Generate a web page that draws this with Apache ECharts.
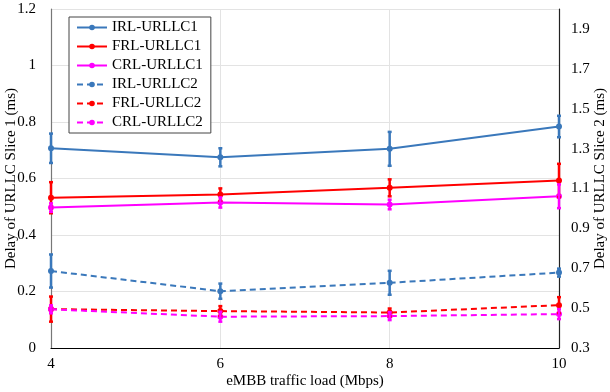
<!DOCTYPE html>
<html>
<head>
<meta charset="utf-8">
<script src="https://cdn.jsdelivr.net/npm/echarts@6/dist/echarts.min.js"></script>
<style>html,body{margin:0;padding:0;background:#fff;}#c{width:610px;height:392px;}</style>
</head>
<body>
<div id="c"></div>
<script>
var loads = [4, 6, 8, 10];
var xTicks = [4, 6, 8, 10];
var irl1 = [0.707, 0.675, 0.705, 0.784];
var frl1 = [0.532, 0.543, 0.567, 0.593];
var crl1 = [0.497, 0.515, 0.508, 0.537];
var irl2 = [0.686, 0.585, 0.627, 0.678];
var frl2 = [0.495, 0.485, 0.478, 0.515];
var crl2 = [0.494, 0.457, 0.460, 0.470];
var irl1Err = [0.052, 0.032, 0.060, 0.038];
var frl1Err = [0.055, 0.022, 0.030, 0.059];
var crl1Err = [0.015, 0.018, 0.017, 0.042];
var irl2Err = [0.083, 0.038, 0.060, 0.020];
var frl2Err = [0.063, 0.025, 0.020, 0.040];
var crl2Err = [0.020, 0.025, 0.020, 0.025];
var names = ['IRL-URLLC1','FRL-URLLC1','CRL-URLLC1','IRL-URLLC2','FRL-URLLC2','CRL-URLLC2'];

var BLUE = '#3a78bb', RED = '#ff0000', MAG = '#ff00ff';
var FONT = 'Liberation Serif';

function pairs(vals){ return loads.map(function(x,i){ return [x, vals[i]]; }); }
function errData(vals, err){ return loads.map(function(x,i){ return [x, vals[i]-err[i], vals[i]+err[i]]; }); }

function lineSeries(name, vals, color, dashed, axis){
  return {
    name: name, type: 'line', yAxisIndex: axis, data: pairs(vals),
    symbol: 'circle', symbolSize: 6, z: 2,
    itemStyle: {color: color},
    lineStyle: {color: color, width: 2, type: dashed ? [6,4] : 'solid'}
  };
}
function errSeries(vals, err, color, axis){
  return {
    type: 'custom', yAxisIndex: axis, data: errData(vals, err), z: 3, silent: true,
    renderItem: function(params, api){
      var x = api.value(0);
      var lo = api.coord([x, api.value(1)]);
      var hi = api.coord([x, api.value(2)]);
      var w = 2;
      var st = {stroke: color, lineWidth: 2.5};
      return {type: 'group', children: [
        {type:'line', shape:{x1:lo[0],y1:lo[1],x2:hi[0],y2:hi[1]}, style: st},
        {type:'line', shape:{x1:lo[0]-w,y1:lo[1],x2:lo[0]+w,y2:lo[1]}, style: st},
        {type:'line', shape:{x1:hi[0]-w,y1:hi[1],x2:hi[0]+w,y2:hi[1]}, style: st}
      ]};
    }
  };
}

var chart = echarts.init(document.getElementById('c'), null, {renderer: 'canvas'});
chart.setOption({
  animation: false,
  backgroundColor: '#fff',
  textStyle: {fontFamily: FONT},
  grid: {left: 51, right: 51, top: 9, bottom: 44, containLabel: false, outerBoundsMode: 'none'},
  legend: {
    data: names, orient: 'vertical', left: 69, top: 17,
    padding: [3, 8, 3, 7], itemGap: 4, itemWidth: 30, itemHeight: 7,
    backgroundColor: '#fff', borderColor: '#444', borderWidth: 1,
    textStyle: {fontFamily: FONT, fontSize: 15, color: '#000', lineHeight: 15}
  },
  xAxis: {
    type: 'value', min: 4, max: 10, interval: 2,
    name: 'eMBB traffic load (Mbps)', nameLocation: 'middle', nameGap: 26, nameMoveOverlap: false,
    nameTextStyle: {fontFamily: FONT, fontSize: 15, color: '#000'},
    axisLine: {lineStyle: {color: '#000', width: 1.2}},
    axisTick: {show: false},
    axisLabel: {fontFamily: FONT, fontSize: 15, color: '#000', margin: 9,
      formatter: function(v){ return xTicks.indexOf(v) >= 0 ? String(v) : ''; }},
    splitLine: {show: true, lineStyle: {color: '#e3e3e3', width: 1}}
  },
  yAxis: [{
    type: 'value', min: 0, max: 1.2, interval: 0.2, position: 'left',
    name: 'Delay of URLLC Slice 1 (ms)', nameLocation: 'middle', nameGap: 32, nameMoveOverlap: false,
    nameTextStyle: {fontFamily: FONT, fontSize: 15, color: '#000'},
    axisLine: {show: true, lineStyle: {color: '#777', width: 1.2}},
    axisTick: {show: false},
    axisLabel: {fontFamily: FONT, fontSize: 15, color: '#000', margin: 15},
    splitLine: {show: true, lineStyle: {color: '#e3e3e3', width: 1}}
  }, {
    type: 'value', min: 0.3, max: 2.0, interval: 0.1, position: 'right',
    name: 'Delay of URLLC Slice 2 (ms)', nameLocation: 'middle', nameGap: 34, nameMoveOverlap: false,
    nameTextStyle: {fontFamily: FONT, fontSize: 15, color: '#000'},
    axisLine: {show: true, lineStyle: {color: '#222', width: 1.2}},
    axisTick: {show: false},
    axisLabel: {fontFamily: FONT, fontSize: 15, color: '#000', margin: 12,
      formatter: function(v){ var k = Math.round(v*10); return (k % 2 === 1 && k < 20) ? (k/10).toFixed(1) : ''; }},
    splitLine: {show: false}
  }],
  series: [
    lineSeries(names[0], irl1, BLUE, false, 0),
    lineSeries(names[1], frl1, RED, false, 0),
    lineSeries(names[2], crl1, MAG, false, 0),
    lineSeries(names[3], irl2, BLUE, true, 1),
    lineSeries(names[4], frl2, RED, true, 1),
    lineSeries(names[5], crl2, MAG, true, 1),
    errSeries(irl1, irl1Err, BLUE, 0),
    errSeries(frl1, frl1Err, RED, 0),
    errSeries(crl1, crl1Err, MAG, 0),
    errSeries(irl2, irl2Err, BLUE, 1),
    errSeries(frl2, frl2Err, RED, 1),
    errSeries(crl2, crl2Err, MAG, 1)
  ]
});
</script>
</body>
</html>
